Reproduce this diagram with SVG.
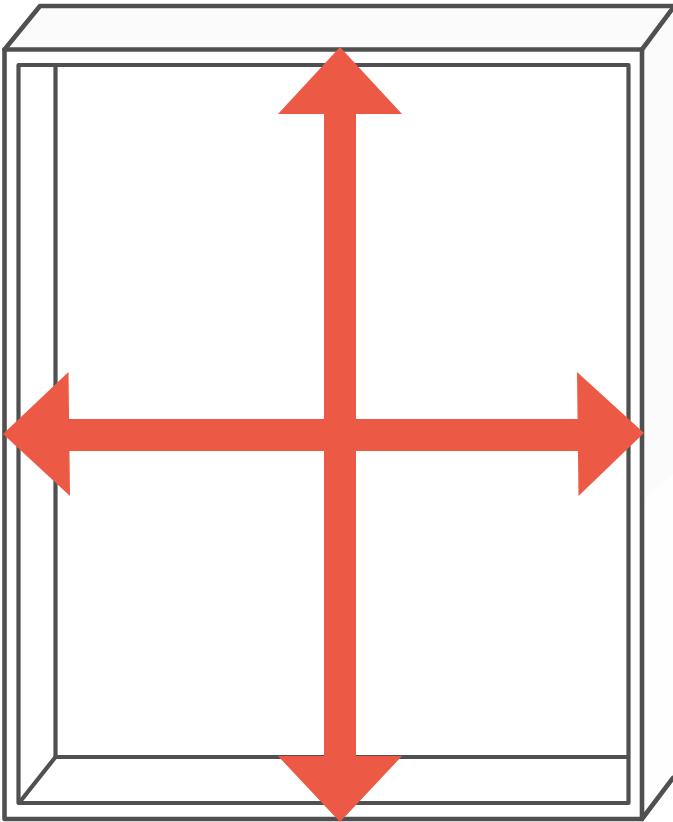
<svg xmlns="http://www.w3.org/2000/svg" width="673" height="822" viewBox="0 0 673 822">
<style>
.l{fill:none;stroke:#505050;stroke-width:4.6;stroke-linejoin:round;stroke-linecap:round}
.t{fill:none;stroke:#505050;stroke-width:4.2;stroke-linejoin:round;stroke-linecap:butt}
.a{fill:#ec5944}
.f{fill:#fbfbfb}
</style>
<rect width="673" height="822" fill="#fff"/>
<g id="box-faces">
<polygon class="f" points="4,49 40,5 673,5 673,8 642,49"/>
<polygon class="f" points="644,49 673,10 673,474 644,498"/>
<polygon fill="#fefefe" points="644,498 673,474 673,778 644,818"/>
</g>
<g id="box-outer">
<rect class="l" x="4.500" y="49.500" width="637.500" height="769.500"/>
<path class="l" d="M4.500 49.500 L40 6 H673"/>
<path class="l" d="M642 49.500 L673 8"/>
<path class="l" d="M642 819 L673 778"/>
</g>
<g id="box-inner">
<rect class="t" x="18.500" y="65" width="610" height="738"/>
<path class="t" d="M55.500 65 V757 H628.500"/>
<path class="t" d="M19 803 L55.500 757"/>
</g>
<g id="arrows">
<rect class="a" x="324" y="110" width="32" height="650"/>
<rect class="a" x="65" y="419" width="516" height="32"/>
<polygon class="a" points="340,47 402,114 278,114"/>
<polygon class="a" points="340,822 278,756 402,756"/>
<polygon class="a" points="3,434 68.500,372 70,496"/>
<polygon class="a" points="644,433 577,372 578.500,496"/>
</g>
</svg>
